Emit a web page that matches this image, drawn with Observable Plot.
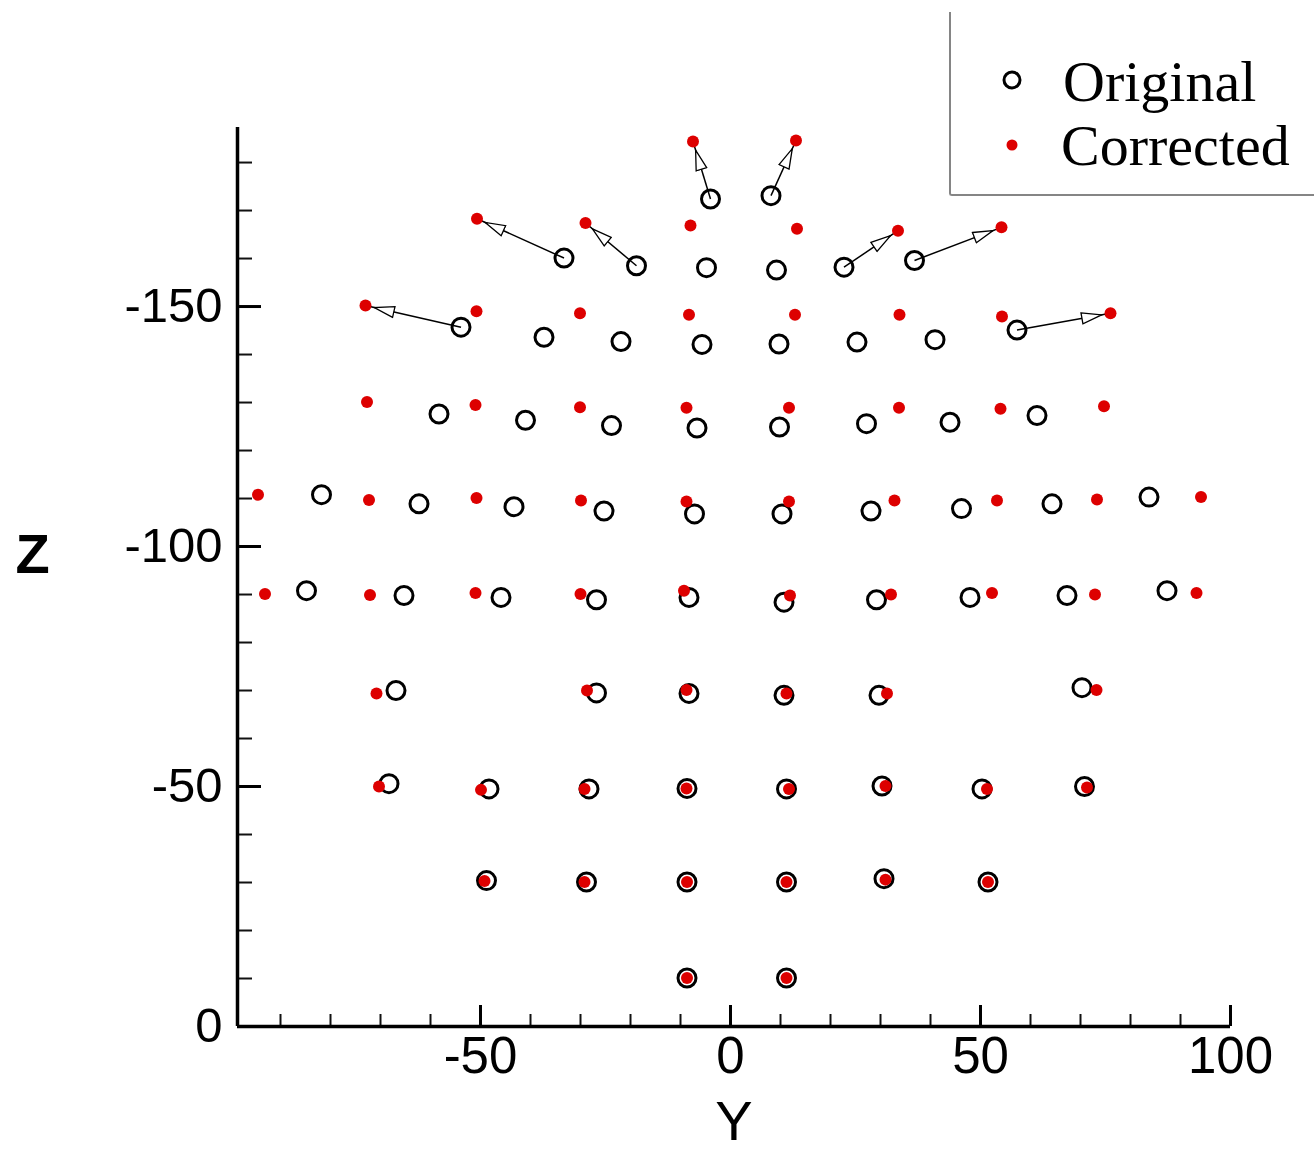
<!DOCTYPE html>
<html><head><meta charset="utf-8">
<script src="https://cdn.jsdelivr.net/npm/d3@7"></script>
<script src="https://cdn.jsdelivr.net/npm/@observablehq/plot@0.6"></script>
<style>
html,body{margin:0;padding:0;background:#fff;}
#wrap{position:relative;width:1314px;height:1161px;overflow:hidden;background:#fff;}
#legend{position:absolute;left:949px;top:12px;width:420px;height:182px;border-left:2.5px solid #858585;border-bottom:2.5px solid #858585;border-bottom-left-radius:3px;font-family:"Liberation Serif","Times New Roman",serif;font-size:58px;line-height:1;color:#000;}
#legend span{position:absolute;white-space:nowrap;}
#legend svg{position:absolute;left:0;top:0;}
</style></head>
<body><div id="wrap"><div id="chart"></div><div id="legend"></div></div>
<script>
// Original measurement positions (Y, Z)
const origY = [-4.0, 8.1,
  -33.3, -18.8, -4.8, 9.2, 22.7, 36.8,
  -53.9, -37.3, -21.9, -5.7, 9.7, 25.3, 40.9, 57.3,
  -58.3, -41.0, -23.8, -6.7, 9.8, 27.2, 43.9, 61.3,
  -81.8, -62.3, -43.3, -25.3, -7.2, 10.3, 28.1, 46.2, 64.3, 83.7,
  -84.8, -65.3, -45.9, -26.8, -8.3, 10.7, 29.2, 47.9, 67.3, 87.3,
  -66.9, -26.8, -8.3, 10.7, 29.7, 70.3,
  -68.3, -48.3, -28.3, -8.7, 11.2, 30.3, 50.3, 70.8,
  -48.8, -28.8, -8.7, 11.2, 30.7, 51.5,
  -8.7, 11.2];
const origZ = [-172.4, -173.1,
  -160.1, -158.5, -158.1, -157.6, -158.2, -159.6,
  -145.7, -143.6, -142.7, -142.1, -142.2, -142.6, -143.1, -145.1,
  -127.6, -126.3, -125.2, -124.7, -124.9, -125.6, -125.9, -127.3,
  -110.8, -108.9, -108.3, -107.4, -106.8, -106.8, -107.4, -107.9, -108.9, -110.3,
  -90.8, -89.8, -89.4, -88.9, -89.4, -88.4, -88.9, -89.4, -89.8, -90.8,
  -70.0, -69.5, -69.4, -69.0, -69.0, -70.6,
  -50.6, -49.5, -49.5, -49.6, -49.5, -50.1, -49.5, -50.0,
  -30.4, -30.1, -30.1, -30.1, -30.8, -30.1,
  -10.1, -10.1];
// Corrected positions (Y, Z)
const corrY = [-7.5, 13.1,
  -50.7, -29.0, -8.0, 13.3, 33.5, 54.2,
  -73.0, -50.8, -30.1, -8.3, 12.9, 33.8, 54.3, 76.0,
  -72.7, -51.0, -30.1, -8.8, 11.7, 33.7, 54.0, 74.7,
  -94.5, -72.3, -50.8, -29.9, -8.8, 11.7, 32.8, 53.3, 73.3, 94.1,
  -93.1, -72.1, -51.0, -30.0, -9.3, 11.9, 32.1, 52.3, 72.9, 93.2,
  -70.8, -28.7, -8.8, 11.2, 31.3, 73.2,
  -70.3, -49.9, -29.2, -8.8, 11.7, 31.0, 51.3, 71.3,
  -49.2, -29.2, -8.7, 11.2, 31.0, 51.5,
  -8.7, 11.2];
const corrZ = [-184.4, -184.6,
  -168.3, -167.4, -166.9, -166.2, -165.8, -166.5,
  -150.2, -149.0, -148.6, -148.3, -148.3, -148.3, -147.9, -148.6,
  -130.1, -129.5, -129.0, -128.9, -128.9, -128.9, -128.7, -129.2,
  -110.8, -109.7, -110.1, -109.6, -109.4, -109.4, -109.6, -109.6, -109.8, -110.3,
  -90.1, -89.9, -90.3, -90.1, -90.8, -89.8, -90.0, -90.3, -90.0, -90.3,
  -69.4, -70.0, -70.1, -69.4, -69.4, -70.1,
  -50.0, -49.3, -49.5, -49.6, -49.5, -50.1, -49.5, -49.8,
  -30.3, -30.1, -30.1, -30.1, -30.6, -30.1,
  -10.1, -10.1];
// Points whose correction is drawn as an arrow
const arrowIdx = [0, 1, 2, 3, 6, 7, 8, 15];

const xMajor = [-50, 0, 50, 100];
const xMinor = [-90, -80, -70, -60, -40, -30, -20, -10, 10, 20, 30, 40, 60, 70, 80, 90];
const zMajor = [0, -50, -100, -150];
const zMinor = [-10, -20, -30, -40, -60, -70, -80, -90, -110, -120, -130, -140, -160, -170, -180];
const xDomain = [-98.6, 100];
const zDomain = [0, -187.3];
const legendLabels = ["Original", "Corrected"];

const W = 1314, H = 1161, ml = 237, mr = 84, mt = 127, mb = 135;
const plotW = W - ml - mr, plotH = H - mt - mb;
const red = "#dd0000";

const pts = origY.map((y, i) => ({oy: y, oz: origZ[i], cy: corrY[i], cz: corrZ[i]}));
const arrows = arrowIdx.map(i => pts[i]);
const fmt = d => String(d);

const chart = Plot.plot({
  width: W, height: H,
  marginLeft: ml, marginRight: mr, marginTop: mt, marginBottom: mb,
  x: {domain: xDomain},
  y: {domain: zDomain},
  style: {fontFamily: "'Liberation Sans', Arial, sans-serif", background: "white", color: "black"},
  marks: [
    Plot.ruleX(xMinor, {x: d => d, insetTop: plotH - 12, strokeWidth: 2, stroke: "#111"}),
    Plot.ruleX(xMajor, {x: d => d, insetTop: plotH - 21, strokeWidth: 3, stroke: "#000"}),
    Plot.ruleY(zMinor, {y: d => d, insetRight: plotW - 15, strokeWidth: 2, stroke: "#111"}),
    Plot.ruleY(zMajor, {y: d => d, insetRight: plotW - 24, strokeWidth: 3, stroke: "#000"}),
    Plot.ruleX([xDomain[0]], {strokeWidth: 3.5, stroke: "#000"}),
    Plot.ruleY([zDomain[0]], {strokeWidth: 3.5, stroke: "#000"}),
    Plot.axisX(xMajor, {tickSize: 0, tickPadding: 10, fontSize: 51, label: null, tickFormat: fmt}),
    Plot.axisY(zMajor, {tickSize: 0, tickPadding: 15, fontSize: 49, label: null, tickFormat: fmt}),
    Plot.text(["Y"], {text: d => d, frameAnchor: "bottom", textAnchor: "middle", dy: 113, fontSize: 56}),
    Plot.text(["Z"], {text: d => d, frameAnchor: "left", textAnchor: "middle", dx: -205, dy: -22, fontSize: 56, fontWeight: "bold"}),
    Plot.dot(pts, {x: "oy", y: "oz", r: 9, stroke: "#000", strokeWidth: 3, fill: "none"}),
    Plot.link(arrows, {x1: "oy", y1: "oz", x2: "cy", y2: "cz", stroke: "#000", strokeWidth: 1.5}),
    Plot.dot(pts, {x: "cy", y: "cz", r: 6, fill: red, stroke: "none"})
  ]
});
document.getElementById("chart").appendChild(chart);

// hollow triangular arrowheads on the links
const svgNS = "http://www.w3.org/2000/svg";
const defs = document.createElementNS(svgNS, "defs");
const marker = document.createElementNS(svgNS, "marker");
marker.setAttribute("id", "hollowHead");
marker.setAttribute("viewBox", "0 0 32 14");
marker.setAttribute("markerWidth", "32");
marker.setAttribute("markerHeight", "14");
marker.setAttribute("markerUnits", "userSpaceOnUse");
marker.setAttribute("refX", "30");
marker.setAttribute("refY", "7");
marker.setAttribute("orient", "auto");
const mp = document.createElementNS(svgNS, "path");
mp.setAttribute("d", "M1,1.5 L21,7 L1,12.5 Z");
mp.setAttribute("fill", "white");
mp.setAttribute("stroke", "black");
mp.setAttribute("stroke-width", "1.3");
marker.appendChild(mp);
defs.appendChild(marker);
chart.insertBefore(defs, chart.firstChild);
chart.querySelectorAll('g[aria-label="link"] path').forEach(p => p.setAttribute("marker-end", "url(#hollowHead)"));

// legend
const lg = document.getElementById("legend");
lg.innerHTML = `<svg width="120" height="182">
  <circle cx="61" cy="68" r="8" fill="none" stroke="black" stroke-width="3"></circle>
  <circle cx="61" cy="133" r="5.5" fill="${red}"></circle>
</svg>
<span style="left:112px;top:41px">${legendLabels[0]}</span>
<span style="left:110px;top:105px">${legendLabels[1]}</span>`;
</script></body></html>
